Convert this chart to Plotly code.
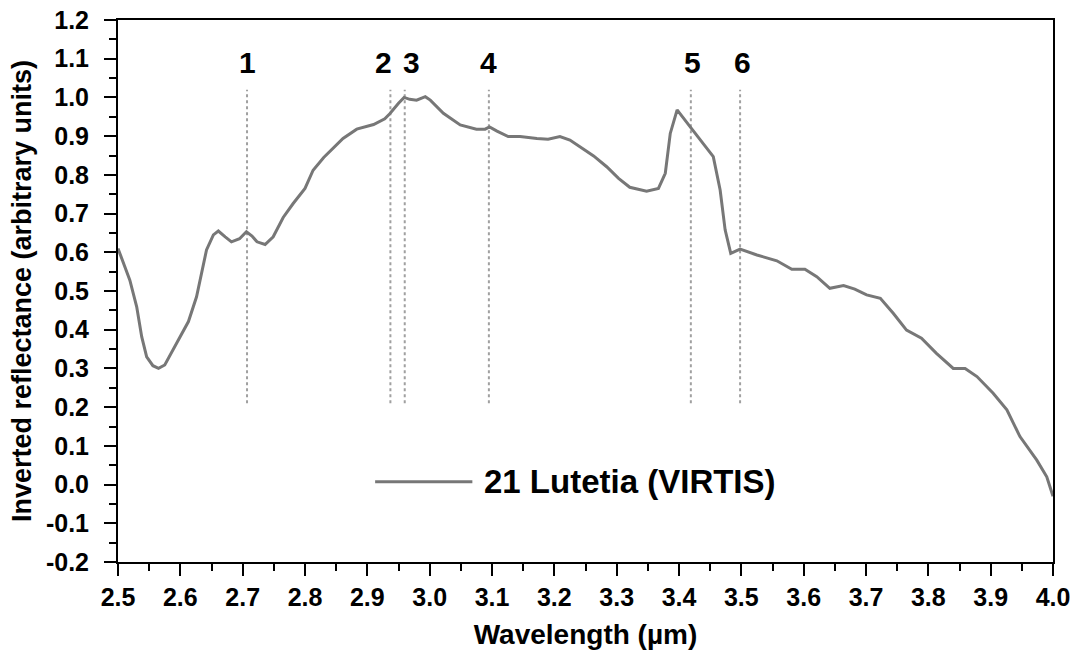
import plotly.graph_objects as go

# ---- data ----
wavelength = [2.500, 2.519, 2.530, 2.538, 2.546, 2.556, 2.565, 2.575, 2.594, 2.613,
              2.626, 2.642, 2.653, 2.661, 2.672, 2.682, 2.695, 2.706, 2.715, 2.723,
              2.736, 2.749, 2.765, 2.781, 2.800, 2.813, 2.830, 2.845, 2.861, 2.883,
              2.910, 2.928, 2.936, 2.950, 2.959, 2.968, 2.979, 2.993, 3.001, 3.022,
              3.049, 3.075, 3.089, 3.096, 3.108, 3.126, 3.145, 3.172, 3.190, 3.209,
              3.225, 3.247, 3.263, 3.284, 3.303, 3.321, 3.348, 3.367, 3.378, 3.386,
              3.397, 3.418, 3.434, 3.455, 3.466, 3.474, 3.483, 3.498, 3.525, 3.557,
              3.581, 3.602, 3.621, 3.642, 3.664, 3.682, 3.701, 3.723, 3.744, 3.765,
              3.789, 3.813, 3.840, 3.859, 3.878, 3.904, 3.926, 3.947, 3.974, 3.990,
              4.000]
reflectance = [0.610, 0.528, 0.459, 0.382, 0.330, 0.307, 0.300, 0.309, 0.365, 0.421,
               0.485, 0.606, 0.645, 0.655, 0.640, 0.627, 0.635, 0.653, 0.642, 0.627,
               0.620, 0.640, 0.690, 0.726, 0.765, 0.812, 0.845, 0.870, 0.894, 0.918,
               0.930, 0.945, 0.958, 0.985, 1.000, 0.995, 0.993, 1.002, 0.993, 0.959,
               0.929, 0.918, 0.918, 0.924, 0.913, 0.899, 0.899, 0.894, 0.892, 0.899,
               0.890, 0.866, 0.849, 0.821, 0.791, 0.768, 0.758, 0.765, 0.804, 0.907,
               0.968, 0.924, 0.890, 0.847, 0.761, 0.658, 0.597, 0.608, 0.593, 0.578,
               0.556, 0.556, 0.537, 0.507, 0.514, 0.505, 0.490, 0.481, 0.442, 0.399,
               0.378, 0.339, 0.300, 0.300, 0.279, 0.236, 0.193, 0.124, 0.063, 0.020,
               -0.030]
series_name = "21 Lutetia (VIRTIS)"

band_positions = [2.707, 2.937, 2.960, 3.095, 3.419, 3.498]
band_labels = ["1", "2", "3", "4", "5", "6"]
band_label_shift = [0, -7, 7, 0, 2, 2]
band_line_range = [0.21, 1.02]
band_label_y = 1.09

x_ticks = [2.5, 2.6, 2.7, 2.8, 2.9, 3.0, 3.1, 3.2, 3.3, 3.4, 3.5, 3.6, 3.7, 3.8, 3.9, 4.0]
y_ticks = [-0.2, -0.1, 0.0, 0.1, 0.2, 0.3, 0.4, 0.5, 0.6, 0.7, 0.8, 0.9, 1.0, 1.1, 1.2]

FONT = "Arial, Liberation Sans, Helvetica, sans-serif"
LINE_COLOR = "#777777"
DOT_COLOR = "#a0a0a0"

fig = go.Figure()

for xb in band_positions:
    fig.add_trace(go.Scatter(x=[xb, xb], y=band_line_range, mode="lines",
                             line=dict(color=DOT_COLOR, width=2, dash="dot"),
                             showlegend=False, hoverinfo="skip"))

fig.add_trace(go.Scatter(x=wavelength, y=reflectance, mode="lines", name=series_name,
                         line=dict(color=LINE_COLOR, width=3), showlegend=False))

for xb, lab, sh in zip(band_positions, band_labels, band_label_shift):
    fig.add_annotation(x=xb, y=band_label_y, text=lab, showarrow=False, xshift=sh,
                       font=dict(family=FONT, size=30, color="black", weight="bold"))

# legend drawn as a sample line plus label (long sample line as in reference)
fig.add_shape(type="line", xref="paper", yref="paper", x0=0.275, x1=0.379, y0=0.148, y1=0.148,
              line=dict(color=LINE_COLOR, width=3))
fig.add_annotation(xref="paper", yref="paper", x=0.389, y=0.148, xanchor="left", yanchor="middle",
                   text=series_name, showarrow=False,
                   font=dict(family=FONT, size=33, color="black", weight="bold"))

axis_common = dict(showline=True, linecolor="black", linewidth=2, mirror=True,
                   ticks="outside", ticklen=12, tickwidth=2, tickcolor="black",
                   showgrid=False, zeroline=False, automargin=False,
                   tickfont=dict(family=FONT, size=25, color="black", weight="bold"))

fig.update_xaxes(range=[2.5, 4.0], tickvals=x_ticks, ticktext=[f"{v:.1f}" for v in x_ticks],
                 minor=dict(ticks="outside", ticklen=7, tickwidth=2, tickcolor="black", dtick=0.05,
                            tick0=2.5, showgrid=False),
                 title=dict(text="Wavelength (µm)", standoff=14,
                            font=dict(family=FONT, size=28, color="black", weight="bold")),
                 **axis_common)
fig.update_yaxes(range=[-0.2, 1.2], tickvals=y_ticks, ticktext=[f"{v:.1f}" for v in y_ticks],
                 ticklabelstandoff=10,
                 minor=dict(ticks="outside", ticklen=7, tickwidth=2, tickcolor="black", dtick=0.05,
                            tick0=-0.2, showgrid=False),
                 title=dict(text="Inverted reflectance (arbitrary units)", standoff=6,
                            font=dict(family=FONT, size=27, color="black", weight="bold")),
                 **axis_common)

fig.update_layout(width=1076, height=659, margin=dict(l=118, r=23, t=20, b=97),
                  paper_bgcolor="white", plot_bgcolor="white",
                  font=dict(family=FONT, color="black"), showlegend=False)

fig.write_html("out.html", config={"displayModeBar": False},
               post_script="document.body.style.margin='0';document.body.style.overflow='hidden';")
